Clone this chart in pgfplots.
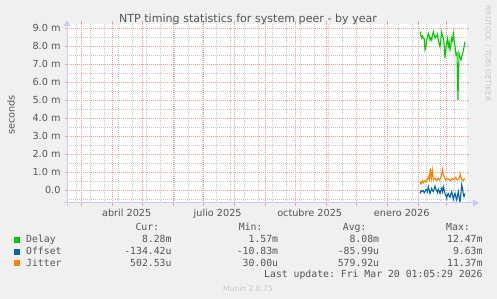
\documentclass[border=0pt]{standalone}
\usepackage{pgfplots}
\pgfplotsset{compat=1.18}
\usepackage{fontspec}
\setmainfont{DejaVu Sans}
\setmonofont{DejaVu Sans Mono}
\definecolor{bgc}{RGB}{240,240,240}
\definecolor{gridred}{RGB}{238,160,160}
\definecolor{gridgray}{RGB}{200,200,200}
\definecolor{axiscol}{RGB}{200,200,255}
\definecolor{txt}{RGB}{85,85,85}
\definecolor{cdelay}{HTML}{00CC00}
\definecolor{coffset}{HTML}{0066B3}
\definecolor{cjitter}{HTML}{FF8000}

\pgfplotstableread{
d v
397.3 8.80
398.0 8.60
399.0 8.43
399.8 8.55
400.6 8.46
401.5 8.40
402.3 7.78
403.0 7.90
404.0 8.33
404.8 8.50
405.6 8.70
406.5 8.55
407.3 8.33
408.2 8.45
409.0 8.33
409.8 8.60
410.6 8.80
411.5 8.60
412.3 8.43
413.2 8.55
414.0 8.52
414.8 8.65
415.6 8.33
416.5 8.10
417.3 7.96
418.2 8.40
419.0 8.76
419.8 8.55
420.6 8.43
421.5 8.05
422.3 7.31
423.2 7.90
424.0 8.15
424.8 8.40
425.6 7.96
426.5 8.20
427.3 7.78
428.2 8.05
429.0 8.43
429.8 8.30
430.6 8.70
431.6 8.24
432.5 7.90
433.3 7.50
434.3 7.59
435.3 5.00
436.3 7.59
437.3 7.41
438.3 7.22
439.2 7.45
440.0 7.59
441.2 7.90
442.3 8.24
}\delaytab

\pgfplotstableread{
d v
397.3 -0.19
398.2 -0.05
399.0 -0.09
399.8 -0.02
400.6 -0.04
401.5 -0.15
402.3 -0.09
403.2 0.02
404.0 0.00
404.8 -0.10
405.6 0.19
406.5 0.00
407.3 -0.19
408.2 -0.05
409.0 0.09
409.8 -0.02
410.6 -0.09
411.5 0.05
412.3 0.22
413.2 0.05
414.0 -0.04
414.8 -0.15
415.6 0.04
416.5 -0.05
417.3 -0.19
418.2 -0.02
419.0 0.09
419.8 -0.10
420.6 0.19
421.5 0.00
422.3 -0.19
423.2 -0.30
424.0 -0.46
424.8 -0.25
425.6 -0.19
426.5 -0.35
427.3 -0.41
428.2 -0.20
429.0 -0.09
429.8 -0.30
430.6 -0.52
431.5 -0.30
432.3 -0.19
433.2 -0.40
434.0 -0.56
434.8 -0.30
435.6 -0.09
436.5 -0.46
437.3 -0.70
438.2 -0.20
439.0 0.30
439.8 0.10
440.6 -0.25
441.3 -0.37
442.3 -0.19
}\offsettab

\pgfplotstableread{
d v
397.3 0.46
398.3 0.33
399.6 0.52
400.6 0.41
401.5 0.50
402.3 0.52
403.2 0.45
404.0 0.56
405.0 0.62
405.6 0.74
406.6 0.56
407.6 1.20
408.6 0.65
409.6 1.11
410.6 0.56
411.5 0.62
412.3 0.65
413.2 0.58
414.0 0.52
414.8 0.60
415.6 0.65
416.5 0.55
417.3 0.59
418.2 0.70
419.0 0.93
419.8 1.15
420.6 0.85
421.6 0.74
422.3 0.62
423.0 0.56
423.8 0.62
424.6 0.65
425.5 0.60
426.3 0.59
427.2 0.55
428.0 0.52
428.8 0.60
429.6 0.65
430.5 0.58
431.3 0.59
432.2 0.65
433.0 0.70
433.8 0.62
434.6 0.56
435.5 0.60
436.3 0.65
437.0 0.75
437.6 0.89
438.3 0.70
439.0 0.59
439.8 0.55
440.6 0.52
441.5 0.62
442.3 0.59
}\jittertab

\begin{document}
\begin{tikzpicture}[x=1pt,y=1pt]
\path[use as bounding box] (0,0) rectangle (497,299);
\fill[bgc] (0,0) rectangle (497,299);
\begin{axis}[
  at={(67pt,96pt)}, anchor=south west,
  width=400pt, height=179pt, scale only axis,
  xmin=44.3, xmax=444.3, ymin=-0.72, ymax=9.22,
  axis background/.style={fill=white},
  axis line style={draw=none},
  xtick={104,195,287,379},
  xticklabels={abril 2025,julio 2025,octubre 2025,enero 2026},
  xtick style={draw=none},
  minor xtick={54,68,82,96,110,124,138,152,166,180,194,208,222,236,250,264,278,292,306,320,348,362,376,390,404,418,432},
  xminorgrids=true, xmajorgrids=false,
  extra x ticks={59,90,120,151,181,212,243,273,304,334,365,396,424},
  extra x tick labels={},
  extra x tick style={grid=major, major tick length=3pt, tick align=outside, xtick style={draw=gridred, line width=0.7pt}},
  ytick={0,1,2,3,4,5,6,7,8,9},
  yticklabels={0.0,1.0 m,2.0 m,3.0 m,4.0 m,5.0 m,6.0 m,7.0 m,8.0 m,9.0 m},
  minor ytick={-0.5,0.5,1.5,2.5,3.5,4.5,5.5,6.5,7.5,8.5},
  ymajorgrids=true, yminorgrids=true,
  ytick style={draw=gridred, line width=0.7pt},
  tick align=outside, major tick length=2pt, minor tick length=0pt,
  major grid style={draw=gridred, line width=0.65pt, dash pattern=on 1pt off 1pt},
  minor grid style={draw=gridgray, line width=0.65pt, dash pattern=on 1pt off 1pt},
  tick label style={font=\fontsize{9.7}{11}\selectfont, text=txt},
  xticklabel style={yshift=-1pt},
  yticklabel style={xshift=-1pt},
  clip=true,
]
\addplot[cdelay, line width=1.1pt] table[x=d,y=v] {\delaytab};
\addplot[coffset, line width=1.1pt] table[x=d,y=v] {\offsettab};
\addplot[cjitter, line width=1.1pt] table[x=d,y=v] {\jittertab};
\end{axis}
% axis lines
\draw[axiscol, line width=1pt] (64,96) -- (474,96);
\fill[axiscol] (473,92.5) -- (479,96) -- (473,99.5) -- cycle;
\draw[axiscol, line width=1pt] (67,93) -- (67,274);
\fill[axiscol] (63.5,273) -- (67,279) -- (70.5,273) -- cycle;
% title
\node[text=txt, font=\fontsize{11.1}{13}\selectfont] at (248,279.2) {NTP timing statistics for system peer - by year};
\node[text=txt, font=\fontsize{9.7}{11}\selectfont, rotate=90] at (11,184) {seconds};
\node[text={rgb,255:red,200;green,200;blue,200}, font=\fontsize{7.4}{9}\selectfont, rotate=-90] at (488,245.5) {RRDTOOL / TOBI OETIKER};
% legend
\begin{scope}[every node/.style={font=\fontsize{9.8}{11}\ttfamily, text=txt, inner sep=0pt}]
\node[anchor=mid east] at (159.3,71.7) {Cur:};
\node[anchor=mid east] at (262.7,71.7) {Min:};
\node[anchor=mid east] at (366.7,71.7) {Avg:};
\node[anchor=mid east] at (470,71.7) {Max:};
\fill[cdelay] (14,56) rectangle (20,62);
\fill[coffset] (14,44.3) rectangle (20,50.3);
\fill[cjitter] (14,32.7) rectangle (20,38.7);
\node[anchor=mid west] at (26,59) {Delay};
\node[anchor=mid west] at (26,47.3) {Offset};
\node[anchor=mid west] at (26,35.7) {Jitter};
\node[anchor=mid east] at (171.7,59) {8.28m};
\node[anchor=mid east] at (278.3,59) {1.57m};
\node[anchor=mid east] at (379.3,59) {8.08m};
\node[anchor=mid east] at (482.7,59) {12.47m};
\node[anchor=mid east] at (171.7,47.3) {-134.42u};
\node[anchor=mid east] at (278.3,47.3) {-10.83m};
\node[anchor=mid east] at (379.3,47.3) {-85.99u};
\node[anchor=mid east] at (482.7,47.3) {9.63m};
\node[anchor=mid east] at (171.7,35.7) {502.53u};
\node[anchor=mid east] at (278.3,35.7) {30.00u};
\node[anchor=mid east] at (379.3,35.7) {579.92u};
\node[anchor=mid east] at (482.7,35.7) {11.37m};
\node[anchor=mid east] at (482.7,24) {Last update: Fri Mar 20 01:05:29 2026};
\end{scope}
\node[text={rgb,255:red,200;green,200;blue,200}, font=\fontsize{7.6}{9}\selectfont] at (248,10.7) {Munin 2.0.75};
\end{tikzpicture}
\end{document}
